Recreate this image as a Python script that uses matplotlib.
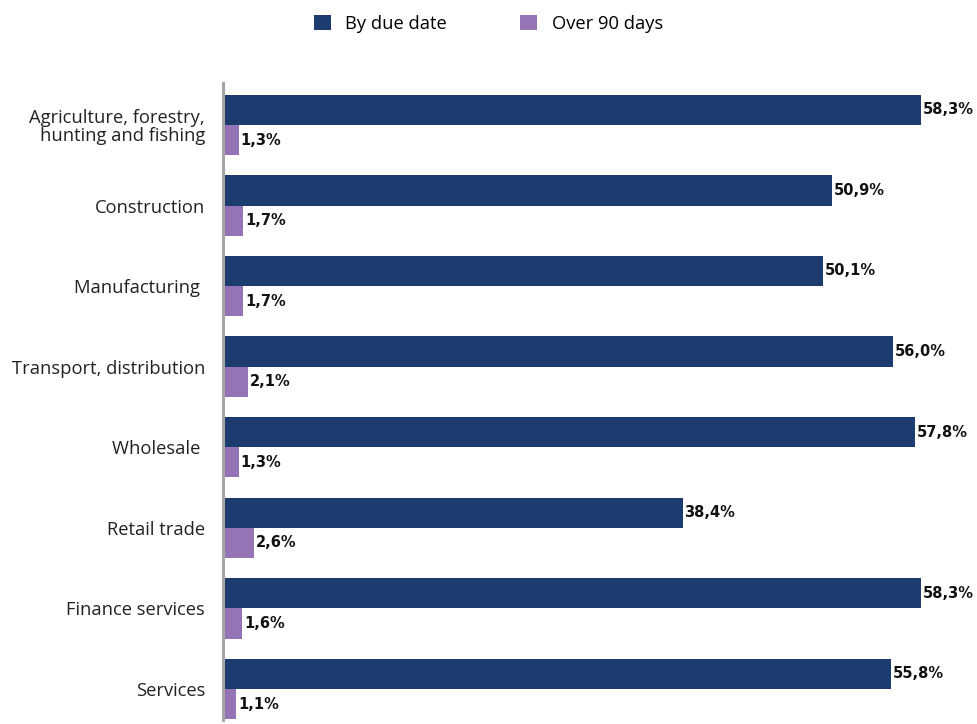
import matplotlib
matplotlib.use("Agg")
import matplotlib.pyplot as plt
from matplotlib.patches import Patch
import numpy as np

categories = [
    "Agriculture, forestry,\nhunting and fishing",
    "Construction",
    "Manufacturing ",
    "Transport, distribution",
    "Wholesale ",
    "Retail trade",
    "Finance services",
    "Services",
]
by_due_date = [58.3, 50.9, 50.1, 56.0, 57.8, 38.4, 58.3, 55.8]
over_90_days = [1.3, 1.7, 1.7, 2.1, 1.3, 2.6, 1.6, 1.1]
series_names = ["By due date", "Over 90 days"]

navy = "#1c3b6e"
purple = "#9474b4"

fig = plt.figure(figsize=(9.77, 7.24), dpi=100)
ax = fig.add_axes([0.2283, 0.0055, 0.7717, 0.8799])

y = np.arange(len(categories))
h = 0.375
ax.barh(y - h / 2, by_due_date, height=h, color=navy)
ax.barh(y + h / 2, over_90_days, height=h, color=purple)

for yi, v in zip(y, by_due_date):
    ax.text(v + 0.15, yi - h / 2, f"{v:.1f}%".replace(".", ","),
            va="center", ha="left", fontsize=10.5, fontweight="bold",
            family="DejaVu Sans", color="#111111")
for yi, v in zip(y, over_90_days):
    ax.text(v + 0.15, yi + h / 2, f"{v:.1f}%".replace(".", ","),
            va="center", ha="left", fontsize=10.5, fontweight="bold",
            family="DejaVu Sans", color="#111111")

ax.set_xlim(0, 63.0)
ax.set_ylim(7.385, -0.521)
ax.set_yticks(y)
ax.set_yticklabels(categories, fontsize=13.2, family="Open Sans", color="#222222",
                   linespacing=1.0)
ax.tick_params(axis="y", length=0, pad=13)
ax.set_xticks([])
for side in ["top", "right", "bottom"]:
    ax.spines[side].set_visible(False)
ax.spines["left"].set_color("#a6a6a6")
ax.spines["left"].set_linewidth(2.2)

handles = [Patch(facecolor=navy), Patch(facecolor=purple)]
fig.legend(handles, series_names, loc="upper center", bbox_to_anchor=(0.5, 1.0),
           ncol=2, frameon=False, prop={"family": "Open Sans", "size": 13.2},
           handlelength=0.9, handleheight=0.9, columnspacing=4.0,
           handletextpad=0.8, borderaxespad=0.4)

fig.savefig("out.png", dpi=100)
